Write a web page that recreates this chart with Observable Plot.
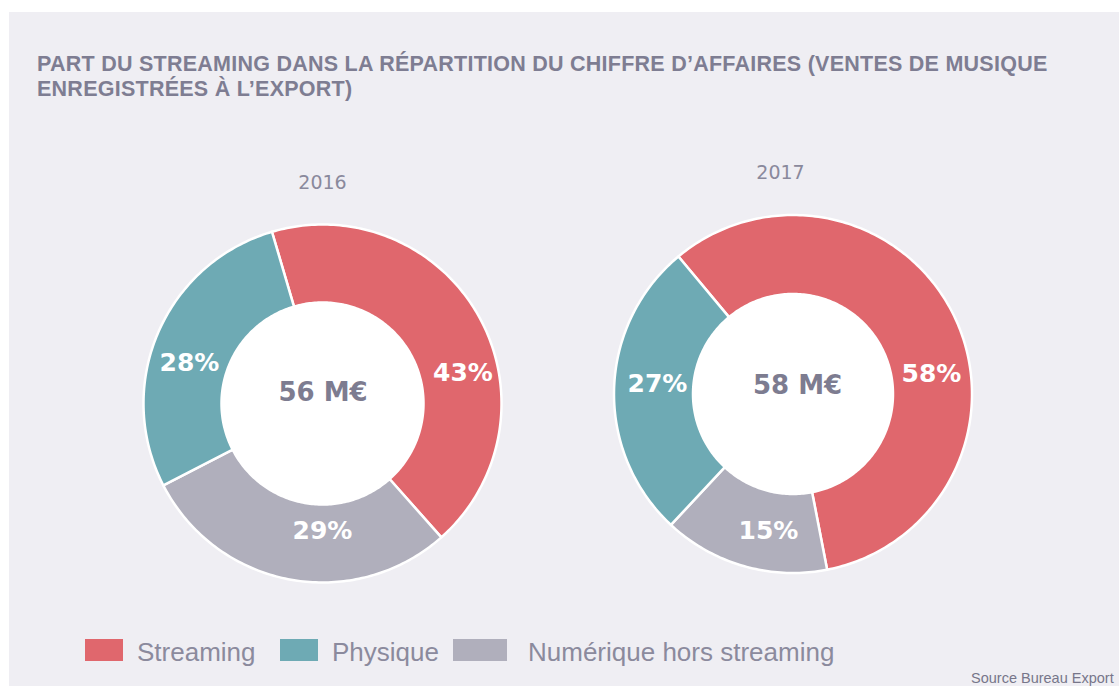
<!DOCTYPE html>
<html><head><meta charset="utf-8">
<script src="https://cdn.jsdelivr.net/npm/d3@7"></script>
<script src="https://cdn.jsdelivr.net/npm/@observablehq/plot@0.6"></script>
<style>
html,body{margin:0;padding:0;background:#fff;width:1119px;height:686px;overflow:hidden;}
#panel{position:absolute;left:9px;top:12px;width:1110px;height:674px;background:#efeef3;overflow:hidden;}
#title{position:absolute;left:28px;top:40px;font:bold 21.5px "Liberation Sans",Arial,sans-serif;letter-spacing:0.25px;line-height:25px;color:#7e7d92;white-space:nowrap;}
#chart{position:absolute;left:0;top:128px;}
.sw{position:absolute;top:627px;height:22px;}
.lt{position:absolute;top:627px;font:26px "Liberation Sans",Arial,sans-serif;line-height:26px;color:#8b8a9d;white-space:nowrap;}
#source{position:absolute;left:962px;top:659px;font:14.5px "Liberation Sans",Arial,sans-serif;line-height:15px;color:#77768a;white-space:nowrap;}
</style></head><body>
<div id="panel">
  <div id="title"></div>
  <div id="chart"></div>
  <div id="legend"></div>
  <div id="source"></div>
</div>
<script>
// ---- data ----
const titleLines = ["PART DU STREAMING DANS LA RÉPARTITION DU CHIFFRE D’AFFAIRES (VENTES DE MUSIQUE", "ENREGISTRÉES À L’EXPORT)"];
const years = ["2016", "2017"];
const categories = ["Streaming", "Numérique hors streaming", "Physique"]; // clockwise order
const shares2016 = [43, 29, 28];
const shares2017 = [58, 15, 27];
const totalsMEUR = [56, 58];
const legendOrder = ["Streaming", "Physique", "Numérique hors streaming"];
const sourceText = "Source Bureau Export";

// ---- styles / layout ----
const colors = {"Streaming": "#e0676d", "Physique": "#6eaab4", "Numérique hors streaming": "#b0afbc"};
const W = 1110, H = 470;
const layout = {
  "2016": {cx: 313, cy: 263, r0: 101, r1: 179, start: -16.4,
           year: [0, -221], total: [0.5, -10.5],
           labels: {"Streaming": [140.5, -30.5], "Numérique hors streaming": [0, 127], "Physique": [-133, -40.5]}},
  "2017": {cx: 783.5, cy: 253.5, r0: 100, r1: 179, start: -39.8,
           year: [-12.5, -221.5], total: [4.5, -8.5],
           labels: {"Streaming": [138.5, -20.5], "Numérique hors streaming": [-24.5, 136.5], "Physique": [-135.5, -10]}}
};
const legendLayout = {
  "Streaming": {sx: 76, sw: 38, tx: 128},
  "Physique": {sx: 271, sw: 38, tx: 323},
  "Numérique hors streaming": {sx: 444, sw: 54, tx: 519}
};

// ---- build geometry from data ----
const sharesByYear = {"2016": shares2016, "2017": shares2017};
const ringPts = [], holePts = [], pctLabels = [], yearLabels = [], totalLabels = [];
const rad = d => d * Math.PI / 180;
years.forEach((yr, yi) => {
  const L = layout[yr], shares = sharesByYear[yr];
  const sum = d3.sum(shares);
  let a = L.start;
  categories.forEach((cat, ci) => {
    const span = shares[ci] / sum * 360;
    const a0 = a, a1 = a + span;
    const n = Math.ceil(span);
    const id = yr + "-" + cat;
    for (let i = 0; i <= n; i++) {
      const t = rad(a0 + (a1 - a0) * i / n);
      ringPts.push({id, category: cat, x: L.cx + L.r1 * Math.sin(t), y: L.cy - L.r1 * Math.cos(t)});
    }
    for (let i = n; i >= 0; i--) {
      const t = rad(a0 + (a1 - a0) * i / n);
      ringPts.push({id, category: cat, x: L.cx + L.r0 * Math.sin(t), y: L.cy - L.r0 * Math.cos(t)});
    }
    const off = L.labels[cat];
    pctLabels.push({x: L.cx + off[0], y: L.cy + off[1], text: shares[ci] + "%"});
    a = a1;
  });
  for (let i = 0; i < 360; i += 2) {
    const t = rad(i);
    holePts.push({id: yr, x: L.cx + L.r0 * Math.sin(t), y: L.cy - L.r0 * Math.cos(t)});
  }
  yearLabels.push({x: L.cx + L.year[0], y: L.cy + L.year[1], text: yr});
  totalLabels.push({x: L.cx + L.total[0], y: L.cy + L.total[1], text: totalsMEUR[yi] + " M€"});
});

const chart = Plot.plot({
  width: W, height: H,
  marginTop: 0, marginRight: 0, marginBottom: 0, marginLeft: 0,
  x: {domain: [0, W], range: [0, W], axis: null},
  y: {domain: [0, H], range: [0, H], axis: null},
  color: {domain: categories, range: categories.map(c => colors[c])},
  style: {background: "transparent", overflow: "visible"},
  marks: [
    Plot.line(holePts, {x: "x", y: "y", z: "id", fill: "white", stroke: "white", curve: "linear-closed"}),
    Plot.line(ringPts, {x: "x", y: "y", z: "id", fill: "category", stroke: "white", strokeWidth: 2.5, curve: "linear-closed"}),
    Plot.text(pctLabels, {x: "x", y: "y", text: "text", fill: "white", fontSize: 25, fontWeight: "bold", fontFamily: "DejaVu Sans"}),
    Plot.text(totalLabels, {x: "x", y: "y", text: "text", fill: "#7d7c90", fontSize: 26, fontWeight: "bold", fontFamily: "DejaVu Sans"}),
    Plot.text(yearLabels, {x: "x", y: "y", text: "text", fill: "#8a899c", fontSize: 19, fontFamily: "DejaVu Sans"})
  ]
});
document.getElementById("chart").appendChild(chart);

document.getElementById("title").innerHTML = titleLines.join("<br>");
document.getElementById("source").textContent = sourceText;
const leg = document.getElementById("legend");
legendOrder.forEach(cat => {
  const g = legendLayout[cat];
  const s = document.createElement("div");
  s.className = "sw"; s.style.left = g.sx + "px"; s.style.width = g.sw + "px"; s.style.background = colors[cat];
  const t = document.createElement("div");
  t.className = "lt"; t.style.left = g.tx + "px"; t.textContent = cat;
  leg.appendChild(s); leg.appendChild(t);
});
</script>
</body></html>
